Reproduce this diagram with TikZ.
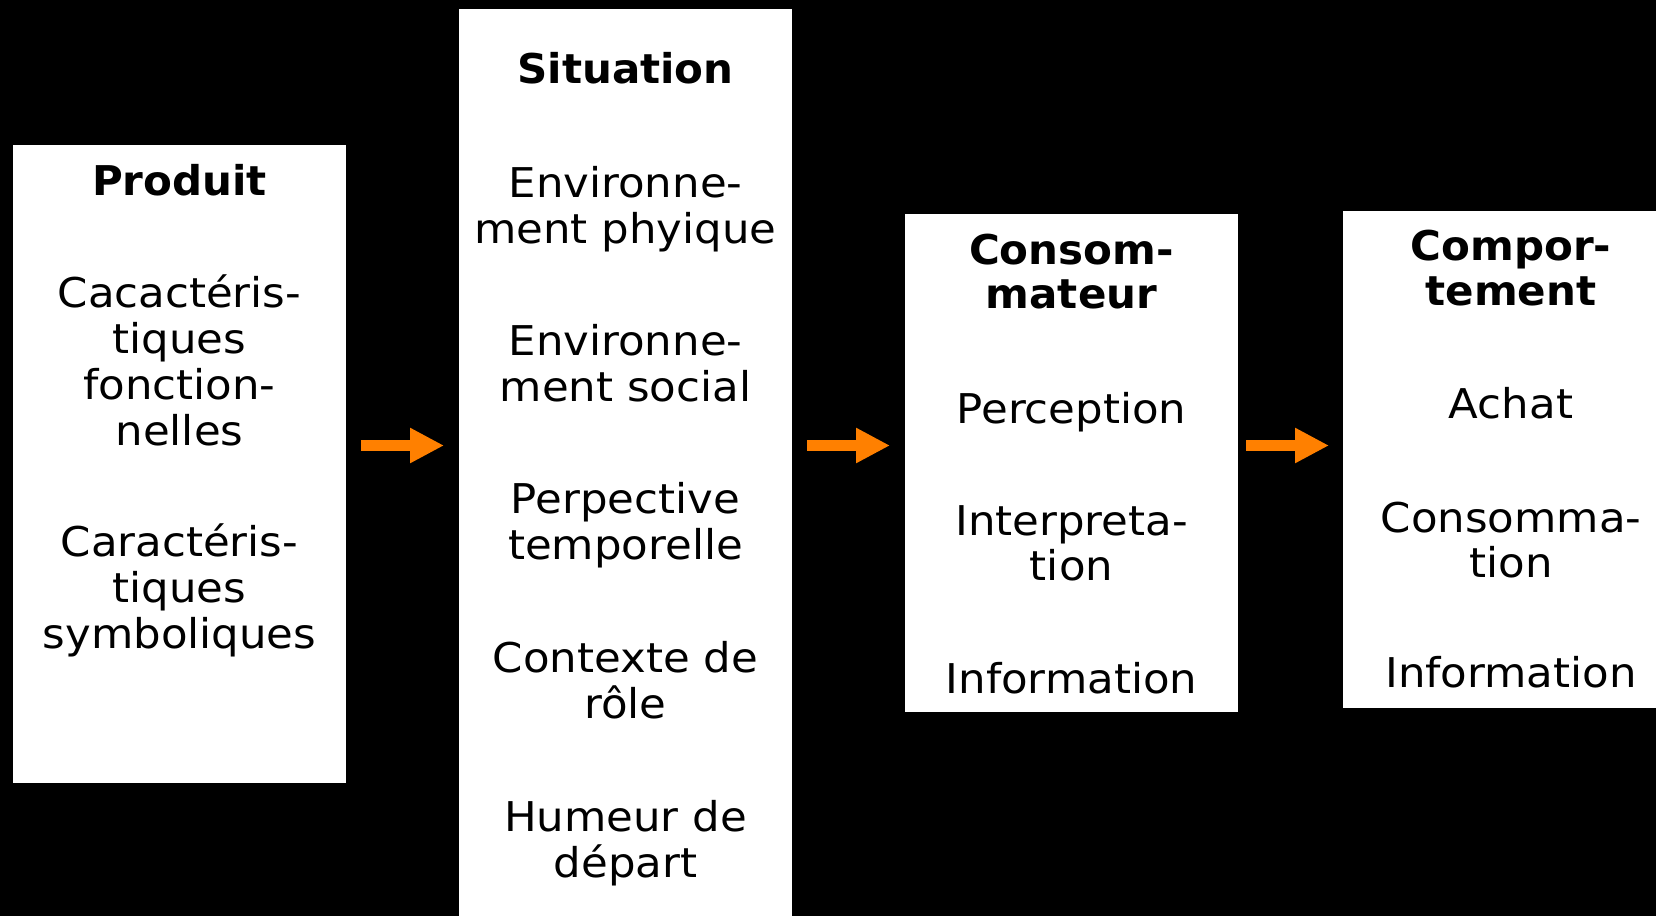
\documentclass[tikz,border=0pt]{standalone}
\usepackage{fontspec}
\setmainfont{DejaVu Sans}[FakeStretch=1.06]
\newfontfamily\hdrfont{DejaVu Sans}[FakeStretch=1.025]
\usetikzlibrary{arrows.meta}
\definecolor{orangec}{RGB}{255,128,0}
\tikzset{
  boxst/.style={fill=white, draw=none, inner sep=0pt, rectangle},
  txt/.style={anchor=base, inner sep=0pt, text=black, font=\fontsize{41}{46}\selectfont},
  hdr/.style={anchor=base, inner sep=0pt, text=black, font=\hdrfont\fontsize{41}{46}\selectfont\bfseries},
  arr/.style={draw=orangec, line width=11pt, -{Triangle[length=34pt,width=33pt]}}
}
\begin{document}
\begin{tikzpicture}[x=1pt,y=-1pt]
\fill[black] (0,0) rectangle (1656,916);
\useasboundingbox (0,0) rectangle (1656,916);
% boxes
\node[boxst, anchor=north west, minimum width=333pt, minimum height=638pt] (prod) at (13,145) {};
\node[boxst, anchor=north west, minimum width=333pt, minimum height=920pt] (sit) at (459,9) {};
\node[boxst, anchor=north west, minimum width=333pt, minimum height=498pt] (cons) at (905,214) {};
\node[boxst, anchor=north west, minimum width=336pt, minimum height=497pt] (comp) at (1343,211) {};
% Produit
\node[hdr] (p0) at (179.5,195) {Produit};
\node[txt] (p1) at (179.5,307) {Cacactéris-};
\node[txt] (p2) at (179.5,353) {tiques};
\node[txt] (p3) at (179.5,399) {fonction-};
\node[txt] (p4) at (179.5,445) {nelles};
\node[txt] (p5) at (179.5,556) {Caractéris-};
\node[txt] (p6) at (179.5,602) {tiques};
\node[txt] (p7) at (179.5,648) {symboliques};
% Situation
\node[hdr] (s0) at (625.5,83) {Situation};
\node[txt] (s1) at (625.5,197) {Environne-};
\node[txt] (s2) at (625.5,243) {ment phyique};
\node[txt] (s3) at (625.5,355) {Environne-};
\node[txt] (s4) at (625.5,401) {ment social};
\node[txt] (s5) at (625.5,513) {Perpective};
\node[txt] (s6) at (625.5,559) {temporelle};
\node[txt] (s7) at (625.5,672) {Contexte de};
\node[txt] (s8) at (625.5,718) {rôle};
\node[txt] (s9) at (625.5,831) {Humeur de};
\node[txt] (s10) at (625.5,877) {départ};
% Consommateur
\node[hdr] (c0) at (1071.5,264) {Consom-};
\node[hdr] (c1) at (1071.5,308) {mateur};
\node[txt] (c2) at (1071.5,423) {Perception};
\node[txt] (c3) at (1071.5,535) {Interpreta-};
\node[txt] (c4) at (1071.5,580) {tion};
\node[txt] (c5) at (1071.5,693) {Information};
% Comportement
\node[hdr] (k0) at (1511,260) {Compor-};
\node[hdr] (k1) at (1511,305) {tement};
\node[txt] (k2) at (1511,418) {Achat};
\node[txt] (k3) at (1511,532) {Consomma-};
\node[txt] (k4) at (1511,577) {tion};
\node[txt] (k5) at (1511,687) {Information};
% arrows
\coordinate (ay) at (0,445.5);
\draw[arr, shorten <=15pt, shorten >=15pt] (prod.east |- ay) -- (sit.west |- ay);
\draw[arr, shorten <=15pt, shorten >=15pt] (sit.east |- ay) -- (cons.west |- ay);
\draw[arr, shorten <=8pt, shorten >=14pt] (cons.east |- ay) -- (comp.west |- ay);
\end{tikzpicture}
\end{document}
